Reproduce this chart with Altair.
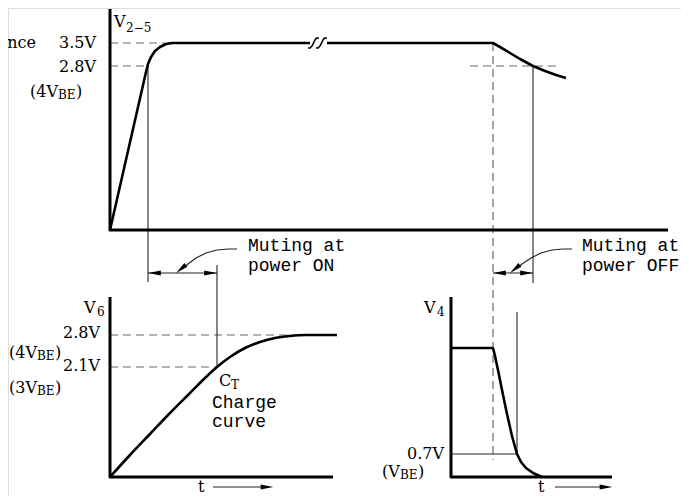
import altair as alt
import pandas as pd

# ---------------- diagram data (sheet coordinates: x to the right, y downwards) ----------------
# axes of the three panels
axis_top = ([110, 110, 668], [9, 230, 230])
axis_v6 = ([110, 110, 333], [297, 477, 477])
axis_v4 = ([451, 451, 612], [297, 477, 477])

# V2-5 supply waveform (rise, plateau, break, decay)
v25_on_x = [110, 146, 148, 151, 155, 160, 166, 172, 310]
v25_on_y = [230, 72, 64, 57, 51, 47, 44, 43, 43]
v25_off_x = [327, 493, 500, 510, 520, 533, 545, 556, 566]
v25_off_y = [43, 43, 47, 53, 59, 66, 71, 75, 78]
brk1_x = [308, 310, 312, 313.5, 315, 316.5, 319]
brk1_y = [48, 48, 46, 43, 40, 38, 38]
brk2_x = [316, 318, 320, 321.5, 323, 324.5, 327]
brk2_y = [48, 48, 46, 43, 40, 38, 38]

# V6: C_T charge curve
v6_x = [110, 130, 150, 170, 190, 205, 217, 230, 245, 260, 275, 290, 305, 337]
v6_y = [477, 455, 434, 413, 393, 378, 367, 357, 348, 342, 338, 336, 335, 335]

# V4: discharge at power off
v4_x = [451, 493, 495, 498, 502, 507, 512, 517, 521, 526, 533, 542]
v4_y = [348, 348, 356, 370, 390, 414, 436, 454, 462, 468, 473, 477]

# arrow rows under the lower panels (time direction)
t_row = 487

# thin guide lines
thin_lines = [
    ([148, 148], [66, 282]),
    ([217, 217], [265, 367]),
    ([533, 533], [66, 283]),
    ([517, 517], [312, 454]),
    ([451, 517], [454, 454]),
    ([148, 217], [273, 273]),
    ([493, 533], [273, 273]),
    ([237, 228, 217, 206, 196, 188, 182], [249, 249, 250, 253, 258, 264, 269]),
    ([572, 563, 552, 541, 531, 522, 516], [249, 249, 250, 253, 258, 264, 269]),
    ([213, 266], [t_row, t_row]),
    ([555, 606], [t_row, t_row]),
]

# dashed reference levels
dashed_lines = [
    ([110, 165], [43, 43]),
    ([110, 147], [66, 66]),
    ([470, 558], [66, 66]),
    ([493, 493], [43, 460]),
    ([110, 300], [335, 335]),
    ([110, 217], [367, 367]),
]

# arrow heads: x, y, direction
head_x = [154.5, 210.5, 499.5, 526.5, 181, 515, 267, 606]
head_y = [273, 273, 273, 273, 269, 269, t_row, t_row]
head_dir = ["left", "right", "left", "right", "lead", "lead", "right", "right"]

# labels
label_serif_right = [
    ("nce", 36, 43), ("3.5V", 96, 43), ("2.8V", 96, 67),
    ("2.8V", 100, 333), ("2.1V", 100, 366), ("0.7V", 444, 454),
]
label_serif_left = [
    ("(4V", 30, 92, 16), ("BE", 58, 95, 12), (")", 76, 92, 16),
    ("V", 114, 22, 16), ("2\u22125", 126, 28, 12),
    ("V", 84, 308, 16), ("6", 97, 312, 12),
    ("(4V", 9, 353, 16), ("BE", 37, 356, 12), (")", 55, 353, 16),
    ("(3V", 9, 388, 16), ("BE", 37, 391, 12), (")", 55, 388, 16),
    ("C", 219, 381, 16), ("T", 231, 385, 12),
    ("t", 198, t_row, 16),
    ("V", 424, 308, 16), ("4", 437, 312, 12),
    ("(V", 382, 472, 16), ("BE", 400, 475, 12), (")", 418, 472, 16),
    ("t", 538, t_row, 16),
]
label_mono = [
    ("Muting at", 248, 246), ("power ON", 248, 266),
    ("Muting at", 582, 246), ("power OFF", 582, 266),
    ("Charge", 212, 403), ("curve", 212, 422),
]

# ---------------- build tables ----------------
def paths_df(paths):
    rows = []
    for i, (xs, ys) in enumerate(paths):
        for j, (x, y) in enumerate(zip(xs, ys)):
            rows.append({"pid": i, "ord": j, "x": x, "y": y})
    return pd.DataFrame(rows)

axes_df = paths_df([axis_top, axis_v6, axis_v4])
curves_df = paths_df([(v25_on_x, v25_on_y), (v25_off_x, v25_off_y), (v4_x, v4_y)])
v6_df = paths_df([(v6_x, v6_y)])
brk_df = paths_df([(brk1_x, brk1_y), (brk2_x, brk2_y)])
thin_df = paths_df(thin_lines)
dash_df = paths_df(dashed_lines)
heads_df = pd.DataFrame({"x": head_x, "y": head_y, "dir": head_dir})

sr_df = pd.DataFrame(label_serif_right, columns=["text", "x", "y"])
sl_df = pd.DataFrame(label_serif_left, columns=["text", "x", "y", "size"])
mono_df = pd.DataFrame(label_mono, columns=["text", "x", "y"])

W, H = 673, 488
xs = alt.Scale(domain=[8, 8 + W], nice=False, zero=False)
ys = alt.Scale(domain=[8, 8 + H], nice=False, zero=False, reverse=True)
X = alt.X("x:Q", scale=xs, axis=None)
Y = alt.Y("y:Q", scale=ys, axis=None)


def path_layer(df, width, color="black", dash=None, interp=None):
    kw = dict(strokeWidth=width, color=color, strokeCap="butt", strokeJoin="round")
    if dash:
        kw["strokeDash"] = dash
    if interp:
        kw["interpolate"] = interp
    return alt.Chart(df).mark_line(**kw).encode(
        x=X, y=Y, detail="pid:N", order="ord:Q")


layers = [
    path_layer(dash_df, 1.2, "#6a6a6a", [8, 5]),
    path_layer(thin_df, 1.1, "#222"),
    path_layer(axes_df, 3),
    path_layer(curves_df, 2.6),
    path_layer(v6_df, 2.6, interp="monotone"),
    path_layer(brk_df, 1.6),
]

left_shape = "M -1 0 L 1 -0.38 L 1 0.38 Z"
right_shape = "M 1 0 L -1 -0.38 L -1 0.38 Z"
for d, shape, ang in [("left", left_shape, 0), ("right", right_shape, 0), ("lead", left_shape, 320)]:
    layers.append(
        alt.Chart(heads_df[heads_df["dir"] == d]).mark_point(
            shape=shape, filled=True, color="black", size=160, angle=ang, opacity=1
        ).encode(x=X, y=Y)
    )

layers.append(
    alt.Chart(sr_df).mark_text(font="DejaVu Serif", fontSize=16, align="right",
                               baseline="middle", color="black").encode(x=X, y=Y, text="text:N")
)
layers.append(
    alt.Chart(sl_df).mark_text(font="DejaVu Serif", align="left",
                               baseline="middle", color="black").encode(
        x=X, y=Y, text="text:N", size=alt.Size("size:Q", scale=None, legend=None))
)
layers.append(
    alt.Chart(mono_df).mark_text(font="Liberation Mono", fontSize=18, align="left",
                                 baseline="middle", color="black").encode(x=X, y=Y, text="text:N")
)

chart = alt.layer(*layers).properties(
    width=W, height=H, padding=0, autosize=alt.AutoSizeParams(type="none")
).configure_view(stroke=None).configure(background="white")

chart.save("out.html", embed_options={"renderer": "svg", "actions": False})
